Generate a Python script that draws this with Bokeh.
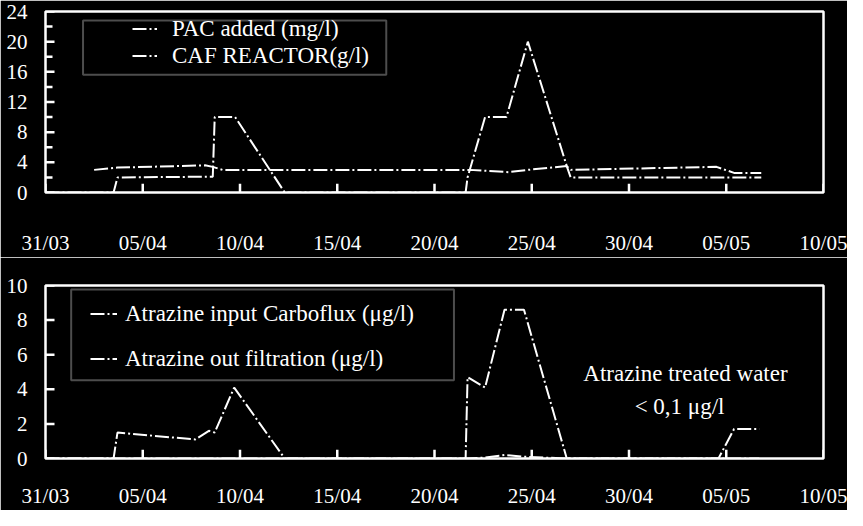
import re
from bokeh.plotting import figure
from bokeh.layouts import column
from bokeh.models import (Legend, LegendItem, FixedTicker, BoxAnnotation, Label, Range1d)
from bokeh.embed import file_html
from bokeh.resources import INLINE

# x = days since 31/03
x_ticks = [0, 5, 10, 15, 20, 25, 30, 35, 40]
x_tick_labels = ["31/03", "05/04", "10/04", "15/04", "20/04", "25/04", "30/04", "05/05", "10/05"]
top_y_ticks = [0, 4, 8, 12, 16, 20, 24]
top_y_minor = [2, 6, 10, 14, 18, 22]
bottom_y_ticks = [0, 2, 4, 6, 8, 10]

# top panel
pac_days = [0, 3.5, 3.7, 8.6, 8.7, 9.75, 12.3, 21.6, 21.7, 22.6, 23.7, 24.8, 26.8, 27.0, 34.5, 35.4, 36.8]
pac_mgl = [0, 0, 2.0, 2.1, 10, 10, 0, 0, 2.0, 10, 10, 20, 3.5, 2.0, 2.0, 2.0, 2.0]
caf_days = [2.5, 3.7, 8.2, 8.6, 9.1, 21.8, 23.8, 24.8, 26.8, 27.0, 34.5, 35.4, 36.8]
caf_gl = [3.0, 3.3, 3.6, 3.4, 3.0, 3.0, 2.7, 3.0, 3.5, 3.0, 3.4, 2.6, 2.6]

# bottom panel
atz_in_days = [0, 3.5, 3.7, 7.7, 8.4, 8.7, 9.7, 12.3, 21.6, 21.7, 22.6, 23.6, 24.6, 26.8, 34.6, 35.4, 36.7]
atz_in = [0, 0, 1.5, 1.1, 1.6, 1.5, 4.1, 0, 0, 4.7, 4.1, 8.6, 8.6, 0, 0, 1.7, 1.7]
atz_out_days = [0, 3.5, 9.7, 12.3, 21.7, 22.6, 23.6, 24.6, 26.8, 35.4, 36.7]
atz_out = [0, 0, 0, 0, 0, 0.05, 0.2, 0.1, 0, 0, 0]

FONT = "Liberation Serif"
DASH = "14 3 2 3"
WHITE = "#ffffff"
FIG_W = 847
BORDER_L = 45
BORDER_R = 24
X_MAX = 40


def make_fig(h, ymax, btop, bbottom, major, minor, label_standoff):
    p = figure(width=FIG_W, height=h, output_backend="svg", toolbar_location=None,
               x_range=Range1d(0, X_MAX), y_range=Range1d(0, ymax),
               min_border_left=BORDER_L, min_border_right=BORDER_R,
               min_border_top=btop, min_border_bottom=bbottom)
    p.background_fill_color = "black"
    p.border_fill_color = "black"
    p.outline_line_color = WHITE
    p.outline_line_width = 2.5
    p.grid.visible = False
    p.xaxis.ticker = FixedTicker(ticks=x_ticks, minor_ticks=[])
    p.xaxis.major_label_overrides = {t: l for t, l in zip(x_ticks, x_tick_labels)}
    p.xaxis.major_label_standoff = label_standoff
    p.yaxis.ticker = FixedTicker(ticks=major, minor_ticks=minor)
    p.yaxis.major_label_standoff = 11
    for axs in (p.xaxis, p.yaxis):
        axs.axis_line_alpha = 0
        axs.major_tick_line_alpha = 0
        axs.minor_tick_line_alpha = 0
        axs.major_tick_in = 0
        axs.major_tick_out = 7
        axs.minor_tick_in = 0
        axs.minor_tick_out = 0
        axs.major_label_text_color = WHITE
        axs.major_label_text_font = FONT
        axs.major_label_text_font_size = "21px"
    # inner tick marks, drawn as short segments at the tick values
    frame_w = FIG_W - BORDER_L - BORDER_R
    frame_h = h - btop - bbottom
    dx = X_MAX / frame_w          # data units per pixel along x
    dy = ymax / frame_h           # data units per pixel along y
    p.segment(x0=x_ticks, y0=[0] * len(x_ticks), x1=x_ticks, y1=[9 * dy] * len(x_ticks),
              line_color=WHITE, line_width=2.5, line_dash="30 1")
    p.segment(x0=[0] * len(major), y0=major, x1=[9 * dx] * len(major), y1=major,
              line_color=WHITE, line_width=2.5, line_dash="30 1")
    if minor:
        p.segment(x0=[0] * len(minor), y0=minor, x1=[7 * dx] * len(minor), y1=minor,
                  line_color=WHITE, line_width=2.5, line_dash="30 1")
    return p


p1 = make_fig(257, 24, 11, 61, top_y_ticks, top_y_minor, 31)
r_pac = p1.line(pac_days, pac_mgl, line_color=WHITE, line_width=2, line_dash=DASH)
r_caf = p1.line(caf_days, caf_gl, line_color=WHITE, line_width=2, line_dash=DASH)
p1.add_layout(BoxAnnotation(left=1.93, right=17.52, top=22.8, bottom=15.6,
                            fill_alpha=0, line_color=WHITE, line_width=2))
leg1 = Legend(items=[LegendItem(label="PAC added (mg/l)", renderers=[r_pac]),
                     LegendItem(label="CAF REACTOR(g/l)", renderers=[r_caf])],
              location=(87, 123), padding=0, spacing=0, margin=0,
              glyph_width=25, glyph_height=27, label_height=27, label_standoff=15,
              label_text_font=FONT, label_text_font_size="23px", label_text_color=WHITE,
              border_line_alpha=0, background_fill_alpha=0)
p1.add_layout(leg1)

p2 = make_fig(253, 10, 28, 48, bottom_y_ticks, [], 18)
r_in = p2.line(atz_in_days, atz_in, line_color=WHITE, line_width=2, line_dash=DASH)
r_out = p2.line(atz_out_days, atz_out, line_color=WHITE, line_width=2, line_dash=DASH)
p2.add_layout(BoxAnnotation(left=1.32, right=21.0, top=9.77, bottom=4.52,
                            fill_alpha=0, line_color=WHITE, line_width=2))
leg2 = Legend(items=[LegendItem(label="Atrazine input Carboflux (μg/l)", renderers=[r_in]),
                     LegendItem(label="Atrazine out filtration (μg/l)", renderers=[r_out])],
              location=(45, 77), padding=0, spacing=0, margin=0,
              glyph_width=27, glyph_height=45, label_height=45, label_standoff=8,
              label_text_font=FONT, label_text_font_size="23px", label_text_color=WHITE,
              border_line_alpha=0, background_fill_alpha=0)
p2.add_layout(leg2)
p2.add_layout(Label(x=33.05, y=4.9, text="Atrazine  treated water", text_align="center",
                    text_baseline="middle", text_color=WHITE, text_font=FONT,
                    text_font_size="23px"))
p2.add_layout(Label(x=32.6, y=3.0, text="< 0,1 μg/l", text_align="center",
                    text_baseline="middle", text_color=WHITE, text_font=FONT,
                    text_font_size="23px"))

p = column(p1, p2, spacing=0)
html = file_html(p, INLINE)
html = re.sub(r"<body([^>]*)>", r'<body\1 style="background-color:#000000">', html, count=1)
open("out.html", "w").write(html)
